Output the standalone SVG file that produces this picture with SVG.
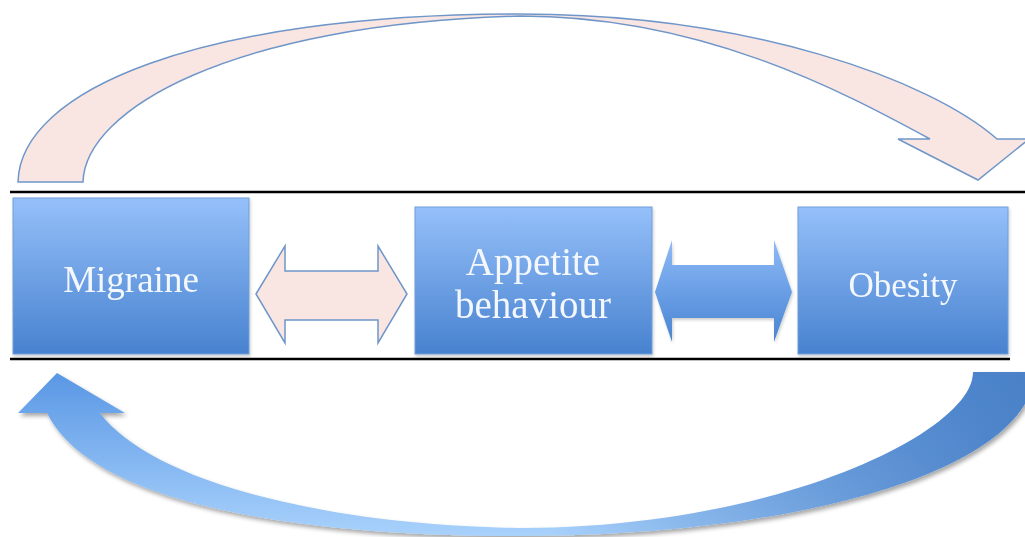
<svg xmlns="http://www.w3.org/2000/svg" width="1025" height="537" viewBox="0 0 1025 537">
<defs>
<linearGradient id="boxg" x1="0" y1="0" x2="0" y2="1">
<stop offset="0" stop-color="#95c0fa"/>
<stop offset="1" stop-color="#4882cf"/>
</linearGradient>
<linearGradient id="darrow" x1="0" y1="0" x2="0" y2="1">
<stop offset="0" stop-color="#8fbaf5"/>
<stop offset="0.5" stop-color="#6a9fe6"/>
<stop offset="1" stop-color="#4a84d0"/>
</linearGradient>
<linearGradient id="botv" x1="0" y1="370" x2="0" y2="537" gradientUnits="userSpaceOnUse">
<stop offset="0" stop-color="#5896e4"/>
<stop offset="1" stop-color="#a9d2fc"/>
</linearGradient>
<linearGradient id="both" x1="550" y1="0" x2="1025" y2="0" gradientUnits="userSpaceOnUse">
<stop offset="0" stop-color="#4a80c6" stop-opacity="0"/>
<stop offset="1" stop-color="#4a80c6" stop-opacity="0.95"/>
</linearGradient>
<filter id="shadow" x="-5%" y="-10%" width="115%" height="130%">
<feDropShadow dx="2" dy="3" stdDeviation="2" flood-color="#000" flood-opacity="0.35"/>
</filter>
<filter id="soft" x="-5%" y="-10%" width="115%" height="130%">
<feDropShadow dx="1" dy="2" stdDeviation="1.5" flood-color="#000" flood-opacity="0.2"/>
</filter>
</defs>
<style>
.box{fill:url(#boxg);stroke:#6e9ed8;stroke-width:1}
.lbl{font-family:"Liberation Serif","DejaVu Serif",serif;fill:#f4f8fd;text-anchor:middle}
.pink{fill:#f9e6e3;stroke:#6f96c9;stroke-width:1.5;stroke-linejoin:miter}
.rule{stroke:#000;stroke-width:2.5}
</style>
<rect width="1025" height="537" fill="#ffffff"/>
<g id="rules">
<line class="rule" x1="10" y1="192" x2="1025" y2="192"/>
<line class="rule" x1="10" y1="359" x2="1010" y2="359"/>
</g>
<g id="connectors">
<path class="pink" d="M18,182 C20,90 200,14 520,14 C750,14 930,80 997,139 L1029,139 L978,180 L898,139 L930,139 C840,90 700,16 520,16 C230,24 85,110 83,182 Z"/>
<g filter="url(#shadow)">
<path fill="url(#botv)" d="M47,413 C90,500 280,536 520,536 C800,536 1030,470 1035,372 L973,372 C975,430 780,528 520,528 C320,525 150,480 100,413 L125,413 L57,373 L18,413 Z"/>
<path fill="url(#both)" d="M47,413 C90,500 280,536 520,536 C800,536 1030,470 1035,372 L973,372 C975,430 780,528 520,528 C320,525 150,480 100,413 L125,413 L57,373 L18,413 Z"/>
</g>
<path class="pink" d="M256,294 L285,246 L285,271 L378,271 L378,246 L407,294 L378,343 L378,320 L285,320 L285,343 Z"/>
<path fill="url(#darrow)" filter="url(#soft)" d="M655,292 L672,240 L672,265 L774,265 L774,240 L792,292 L774,342 L774,318 L672,318 L672,342 Z"/>
</g>
<g id="migraine" filter="url(#soft)">
<rect class="box" x="13" y="198" width="236" height="156"/>
<text class="lbl" x="131" y="292" font-size="37">Migraine</text>
</g>
<g id="appetite" filter="url(#soft)">
<rect class="box" x="415" y="207" width="237" height="147"/>
<text class="lbl" x="533" y="275" font-size="39">Appetite</text>
<text class="lbl" x="533" y="318" font-size="39">behaviour</text>
</g>
<g id="obesity" filter="url(#soft)">
<rect class="box" x="798" y="207" width="210" height="147"/>
<text class="lbl" x="903" y="297" font-size="35">Obesity</text>
</g>
</svg>
